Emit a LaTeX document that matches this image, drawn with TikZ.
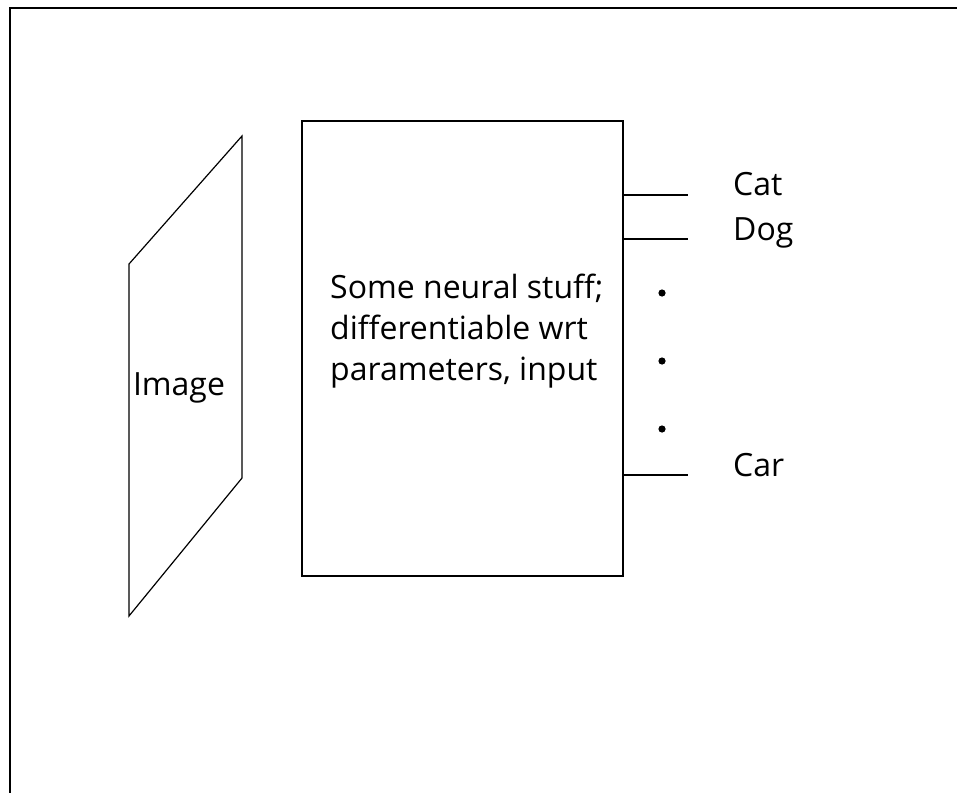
\documentclass[tikz,border=0pt]{standalone}
\usepackage{fontspec}
\setmainfont{Open Sans}
\usetikzlibrary{positioning}

\begin{document}
\begin{tikzpicture}[x=1pt,y=-1pt]
    \tikzset{
        bigtext/.style={font=\fontsize{32}{41}\selectfont, inner sep=0pt},
        netbox/.style={draw, line width=1.8pt, minimum width=321pt, minimum height=455pt, inner sep=0pt},
        outline/.style={line width=1.2pt, line join=miter},
        wire/.style={line width=1.3pt},
    }
    \useasboundingbox (0,0) rectangle (957,792);
    \clip (0,0) rectangle (957,792);

    % Frame
    \draw[line width=2pt] (10,8) rectangle (1000,850);

    % Image
    \coordinate (imgtl) at (129,264);
    \coordinate (imgtr) at (242,136);
    \coordinate (imgbr) at (242,478);
    \coordinate (imgbl) at (129,616);
    \draw[outline] (imgtl) -- (imgtr) -- (imgbr) -- (imgbl) -- cycle;
    \node[bigtext, anchor=base] (img) at (179,395) {Image};

    % Network
    \node[netbox] (net) at (462.5,348.5) {};
    \node[bigtext, align=left, anchor=west] (desc) at (330,331) {Some neural stuff;\\differentiable wrt\\parameters, input};

    % Outputs
    \node[bigtext, anchor=base west] (cat) at (733,195) {Cat};
    \node[bigtext, anchor=base west] (dog) at (733,240) {Dog};
    \node[bigtext, anchor=base west] (car) at (733,476) {Car};
    \coordinate (catend) at (688,195);
    \coordinate (dogend) at (688,239);
    \coordinate (carend) at (688,475);
    \draw[wire] (net.east |- catend) -- (catend);
    \draw[wire] (net.east |- dogend) -- (dogend);
    \draw[wire] (net.east |- carend) -- (carend);
    \foreach \y in {293,361,429}
        \fill (662,\y) circle (3.6pt);

\end{tikzpicture}
\end{document}
